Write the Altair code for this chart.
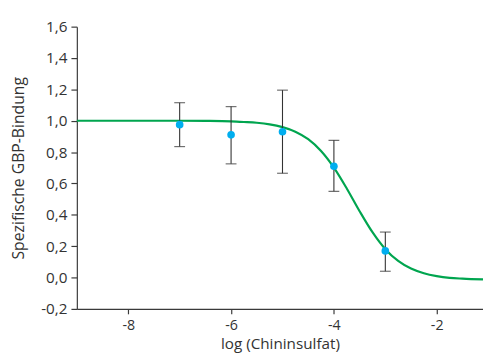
import altair as alt
import pandas as pd

# measured points
pt_x = [-7, -6, -5, -4, -3]
pt_y = [0.975, 0.91, 0.93, 0.71, 0.17]
err_hi = [1.115, 1.09, 1.195, 0.875, 0.29]
err_lo = [0.835, 0.725, 0.665, 0.55, 0.04]

# fitted curve
curve_x = [-9.0, -8.0, -7.0, -6.5, -6.0, -5.75, -5.5, -5.25, -5.0, -4.75, -4.5,
           -4.25, -4.0, -3.75, -3.5, -3.25, -3.0, -2.75, -2.5, -2.25, -2.0,
           -1.75, -1.5, -1.1]
curve_y = [1.0, 1.0, 1.0, 0.999, 0.996, 0.992, 0.987, 0.977, 0.959, 0.930, 0.882,
           0.807, 0.701, 0.568, 0.423, 0.289, 0.181, 0.106, 0.057, 0.027, 0.009,
           -0.002, -0.007, -0.012]

x_ticks = [-8, -6, -4, -2]
y_ticks = [-0.2, 0.0, 0.2, 0.4, 0.6, 0.8, 1.0, 1.2, 1.4, 1.6]

pts = pd.DataFrame({"x": pt_x, "y": pt_y, "hi": err_hi, "lo": err_lo})
cur = pd.DataFrame({"x": curve_x, "y": curve_y})

FONT = "Open Sans"
AX = "#3a3a3a"

xscale = alt.Scale(domain=[-9, -1.1], nice=False, zero=False)
yscale = alt.Scale(domain=[-0.2, 1.6], nice=False, zero=False)

xaxis = alt.Axis(values=x_ticks, title="log (Chininsulfat)", grid=False,
                 labelExpr="(datum.value < 0 ? '-' : '') + format(abs(datum.value), 'd')",
                 tickSize=5, labelPadding=5, titlePadding=5, labelOverlap=False,
                 tickCount=20, labelFontSize=14.5, titleFontSize=15.5)
yaxis = alt.Axis(values=y_ticks, title="Spezifische GBP-Bindung", grid=False,
                 labelExpr="(datum.value < -0.0001 ? '-' : '') + replace(format(abs(datum.value), '.1f'), '.', ',')",
                 tickSize=6, labelPadding=4, titlePadding=14, labelOverlap=False,
                 tickCount=20, labelFontSize=15.5, titleFontSize=16)

line = alt.Chart(cur).mark_line(color="#00a54f", strokeWidth=2.2, interpolate="monotone").encode(
    x=alt.X("x:Q", scale=xscale, axis=xaxis),
    y=alt.Y("y:Q", scale=yscale, axis=yaxis),
)

rules = alt.Chart(pts).mark_rule(color="#333333", strokeWidth=1.1).encode(
    x="x:Q", y="lo:Q", y2="hi:Q"
)
cap_hi = alt.Chart(pts).mark_tick(color="#333333", orient="horizontal", size=11, thickness=1.2).encode(
    x="x:Q", y="hi:Q"
)
cap_lo = alt.Chart(pts).mark_tick(color="#333333", orient="horizontal", size=11, thickness=1.2).encode(
    x="x:Q", y="lo:Q"
)
dots = alt.Chart(pts).mark_circle(color="#00aeef", size=60, opacity=1).encode(
    x="x:Q", y="y:Q"
)

chart = alt.layer(line, rules, cap_hi, cap_lo, dots).properties(
    width=413, height=287,
    autosize=alt.AutoSizeParams(type="none"),
    padding={"left": 70, "top": 16, "right": 0, "bottom": 49},
).configure_view(stroke=None).configure_axis(
    domainColor=AX, tickColor=AX, labelColor="#333333", titleColor="#333333",
    labelFont=FONT, titleFont=FONT,
    titleFontWeight="normal", domainWidth=1.2, tickWidth=1.2,
)

chart.save("out.html", embed_options={"renderer": "svg", "actions": False})
